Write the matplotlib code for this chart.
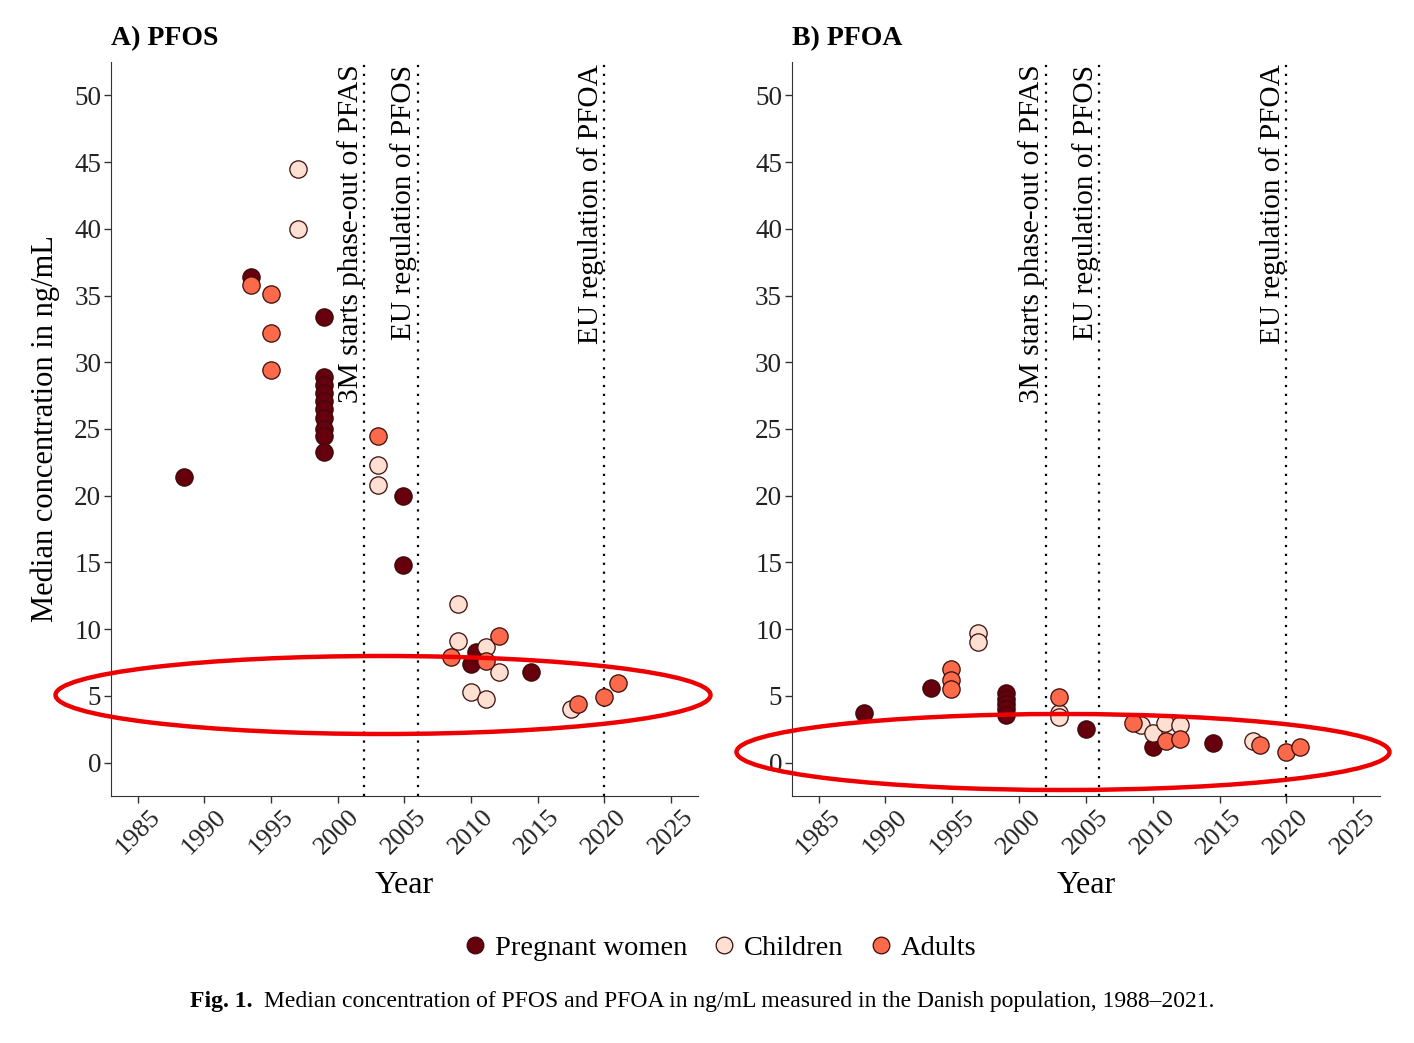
import matplotlib.pyplot as plt
from matplotlib.patches import Ellipse
from matplotlib.lines import Line2D

plt.rcParams['font.family'] = ['Liberation Serif', 'DejaVu Serif']

groups = ['Pregnant women', 'Children', 'Adults']
colors = {'Pregnant women': '#67000d', 'Children': '#fee0d2', 'Adults': '#fb6a4a'}

# PFOS medians (year, ng/mL)
pfos_pregnant_x = [1988.5, 1993.5, 1999.0, 1999.0, 1999.0, 1999.0, 1999.0, 1999.0, 1999.0, 1999.0, 1999.0, 1999.0,
                   2004.9, 2004.9, 2010.0, 2010.4, 2014.5]
pfos_pregnant_y = [21.4, 36.4, 33.4, 28.9, 28.3, 27.7, 27.1, 26.5, 25.8, 25.0, 24.5, 23.3,
                   20.0, 14.8, 7.4, 8.3, 6.8]
pfos_children_x = [1997.0, 1997.0, 2003.0, 2003.0, 2009.0, 2009.0, 2011.1, 2012.1, 2010.0, 2011.1, 2017.5]
pfos_children_y = [44.5, 40.0, 22.3, 20.8, 11.9, 9.1, 8.7, 6.8, 5.3, 4.8, 4.0]
pfos_adults_x = [1993.5, 1995.0, 1995.0, 1995.0, 2003.0, 2008.5, 2011.1, 2012.1, 2018.0, 2020.0, 2021.0]
pfos_adults_y = [35.8, 35.1, 32.2, 29.4, 24.5, 7.9, 7.6, 9.5, 4.4, 4.9, 6.0]

# PFOA medians (year, ng/mL)
pfoa_pregnant_x = [1988.4, 1993.4, 1999.0, 1999.0, 1999.0, 1999.0, 1999.0, 2005.0, 2010.0, 2014.5]
pfoa_pregnant_y = [3.75, 5.6, 5.2, 4.8, 4.4, 4.0, 3.6, 2.55, 1.2, 1.5]
pfoa_children_x = [1996.9, 1996.9, 2003.0, 2003.0, 2009.1, 2010.0, 2010.9, 2012.0, 2017.5]
pfoa_children_y = [9.75, 9.05, 3.75, 3.4, 2.8, 2.2, 3.0, 2.85, 1.6]
pfoa_adults_x = [1994.9, 1994.9, 1994.9, 2003.0, 2008.5, 2011.0, 2012.0, 2018.0, 2020.0, 2021.0]
pfoa_adults_y = [7.0, 6.2, 5.5, 4.95, 3.0, 1.6, 1.8, 1.3, 0.8, 1.2]

events_year = [2002, 2006, 2020]
events_label = ['3M starts phase-out of PFAS', 'EU regulation of PFOS', 'EU regulation of PFOA']

year_ticks = list(range(1985, 2030, 5))
conc_ticks = list(range(0, 55, 5))

panels = [
    ('A) PFOS', [(pfos_pregnant_x, pfos_pregnant_y), (pfos_children_x, pfos_children_y), (pfos_adults_x, pfos_adults_y)]),
    ('B) PFOA', [(pfoa_pregnant_x, pfoa_pregnant_y), (pfoa_children_x, pfoa_children_y), (pfoa_adults_x, pfoa_adults_y)]),
]

fig = plt.figure(figsize=(14.14, 10.43), dpi=100)
axes = [fig.add_axes([0.0785, 0.2368, 0.415, 0.7038]),
        fig.add_axes([0.5600, 0.2368, 0.416, 0.7038])]

for ax, (title, data) in zip(axes, panels):
    for yr, lab in zip(events_year, events_label):
        ax.axvline(yr, color='black', linestyle=(0, (1, 3)), lw=1.6, zorder=1)
        ax.text(yr - 0.05, 52.3, lab, rotation=90, ha='right', va='top', fontsize=21.2, zorder=2)
    for g, (xs, ys) in zip(groups, data):
        ax.scatter(xs, ys, s=155, c=colors[g], edgecolors='#3b0a0a', linewidths=0.9, zorder=3)
    ax.set_xlim(1983, 2027)
    ax.set_ylim(-2.5, 52.5)
    ax.set_xticks(year_ticks)
    ax.set_xticklabels([str(t) for t in year_ticks], rotation=45, fontsize=19)
    ax.set_yticks(conc_ticks)
    ax.set_yticklabels([str(t) for t in conc_ticks], fontsize=19.5)
    ax.tick_params(direction='out', length=5, width=1, colors='#333333', labelcolor='#222222', pad=2)
    for s in ['top', 'right']:
        ax.spines[s].set_visible(False)
    for s in ['left', 'bottom']:
        ax.spines[s].set_color('#333333')
    ax.set_xlabel('Year', fontsize=23, labelpad=9)
    ax.set_title(title, loc='left', fontsize=20, fontweight='bold', pad=12)

axes[0].set_ylabel('Median concentration in ng/mL', fontsize=22, labelpad=10)

# red annotation ellipses
fig.add_artist(Ellipse((383 / 1414, 1 - 695 / 1043), 655 / 1414, 78 / 1043, transform=fig.transFigure,
                       fill=False, edgecolor='#ee0000', lw=3.2, zorder=10))
fig.add_artist(Ellipse((1063 / 1414, 1 - 752 / 1043), 653 / 1414, 76 / 1043, transform=fig.transFigure,
                       fill=False, edgecolor='#ee0000', lw=3.2, zorder=10))

handles = [Line2D([], [], marker='o', linestyle='', markersize=12, markerfacecolor=colors[g],
                  markeredgecolor='#3b0a0a', markeredgewidth=0.9) for g in groups]
fig.legend(handles, groups, loc='center', bbox_to_anchor=(717 / 1414, 1 - 948 / 1043), ncol=3, frameon=False,
           fontsize=20.5, handletextpad=0.1, columnspacing=0.7, handlelength=1.2)

fig.text(190 / 1414, 1 - 1001 / 1043, 'Fig. 1.', fontsize=17, fontweight='bold', va='center', ha='left')
fig.text(264 / 1414, 1 - 1001 / 1043,
         'Median concentration of PFOS and PFOA in ng/mL measured in the Danish population, 1988\u20132021.',
         fontsize=17, va='center', ha='left')

fig.savefig('out.png', dpi=100)
